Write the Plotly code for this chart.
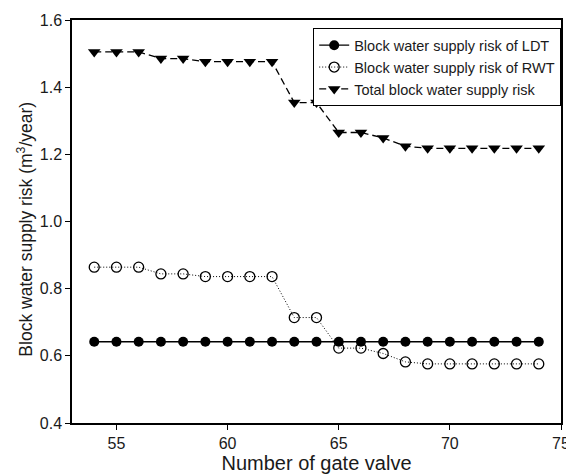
import plotly.graph_objects as go

gate_valves = list(range(54, 75))
risk_ldt = [0.642] * 21
risk_rwt = [0.864, 0.864, 0.864, 0.844, 0.844, 0.836, 0.836, 0.836, 0.836,
            0.714, 0.714, 0.623, 0.623, 0.607, 0.582, 0.576, 0.576, 0.576,
            0.576, 0.576, 0.576]
risk_total = [1.505, 1.505, 1.505, 1.485, 1.485, 1.476, 1.476, 1.476, 1.476,
              1.354, 1.354, 1.265, 1.265, 1.249, 1.224, 1.218, 1.218, 1.218,
              1.218, 1.218, 1.218]

FONT = "Liberation Sans, Arial"
TXT = "#1a1a1a"

fig = go.Figure()
fig.add_trace(go.Scatter(
    x=gate_valves, y=risk_ldt, mode="lines+markers",
    name="Block water supply risk of LDT",
    line=dict(color="black", width=1.3, dash="solid"),
    marker=dict(symbol="circle", size=10, color="black"),
))
fig.add_trace(go.Scatter(
    x=gate_valves, y=risk_rwt, mode="lines+markers",
    name="Block water supply risk of RWT",
    line=dict(color="black", width=1, dash="1px,2px"),
    marker=dict(symbol="circle-open", size=10, color="black", line=dict(width=1.3)),
))
fig.add_trace(go.Scatter(
    x=gate_valves, y=risk_total, mode="lines+markers",
    name="Total block water supply risk",
    line=dict(color="black", width=1.3, dash="7px,4px"),
    marker=dict(symbol="triangle-down", size=11, color="black"),
))

axis_common = dict(
    showgrid=False, zeroline=False, showline=True, linecolor="black",
    linewidth=1.5, mirror=True, ticks="outside", ticklen=5, tickwidth=1.2,
    tickcolor="black", tickfont=dict(family=FONT, size=16, color=TXT),
    automargin=False,
)

# page body has an 8px offset, so the figure is sized/margined to land
# the plot area at the same page position as the reference
fig.update_layout(
    width=566, height=468,
    margin=dict(l=64, r=13, t=12, b=53),
    paper_bgcolor="white", plot_bgcolor="white",
    font=dict(family=FONT, color=TXT),
    xaxis=dict(range=[53, 75], dtick=5, tick0=55,
               title=dict(text="Number of gate valve", standoff=4,
                          font=dict(size=20, family=FONT, color=TXT)),
               **axis_common),
    yaxis=dict(range=[0.4, 1.6], dtick=0.2, tickformat=".1f", **axis_common),
    legend=dict(x=1, y=0.98, xanchor="right", yanchor="top",
                bgcolor="white", bordercolor="black", borderwidth=1.2,
                font=dict(size=14.5, color=TXT, family=FONT), tracegroupgap=0,
                itemwidth=30),
    showlegend=True,
    annotations=[dict(
        text="Block water supply risk (m<sup>3</sup>/year)",
        xref="paper", yref="paper", x=-0.098, y=0.48,
        xanchor="center", yanchor="middle", textangle=-90, showarrow=False,
        font=dict(size=17.5, family=FONT, color=TXT),
    )],
)

fig.write_html("out.html")
